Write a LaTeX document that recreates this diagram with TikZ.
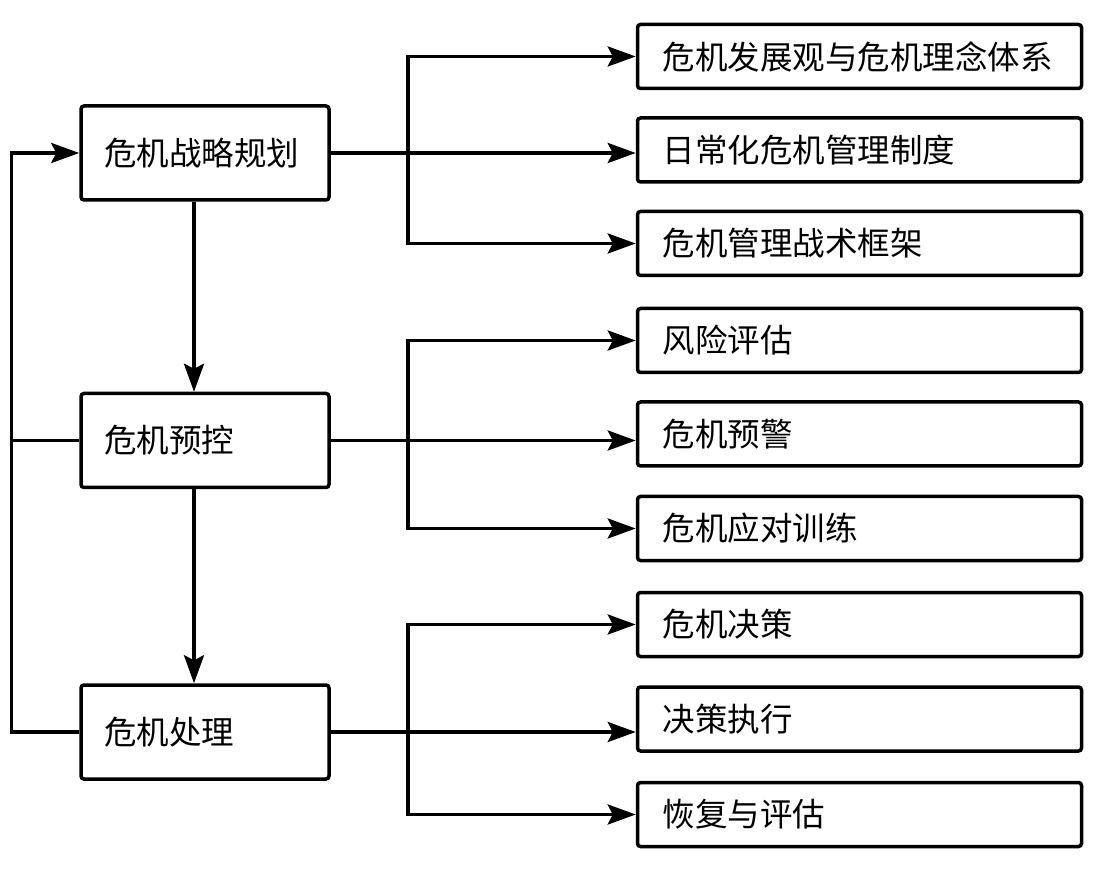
\documentclass[tikz,border=0pt]{standalone}
\usepackage{fontspec}
\newfontfamily\cjk{Noto Sans CJK SC}
\usetikzlibrary{arrows.meta,positioning,calc}

\begin{document}
\begin{tikzpicture}[
    x=1pt, y=1pt,
    >={Stealth[length=28pt, width=20pt, inset=5pt]},
    node distance=26pt,
    mainbox/.style={draw, rectangle, minimum height=94pt, minimum width=248pt, text width=202pt, inner xsep=23pt, align=left, font=\cjk\fontsize{32.5}{38}\selectfont, rounded corners=3pt, line width=3.5pt},
    subbox/.style={draw, rectangle, minimum height=64pt, minimum width=444pt, text width=394pt, inner xsep=25pt, align=left, font=\cjk\fontsize{32.5}{38}\selectfont, rounded corners=3pt, line width=3.5pt},
    link/.style={line width=3.5pt}
]
    \useasboundingbox (0,0) rectangle (1093,-874);

    % Coluna principal (esquerda)
    \node[mainbox] (plan) at (205,-153) {危机战略规划};
    \node[mainbox, below=190pt of plan] (ctrl) {危机预控};
    \node[mainbox, below=194pt of ctrl] (handle) {危机处理};

    % Primeiro grupo
    \node[subbox, right=305pt of plan, yshift=3pt] (sysb) {日常化危机管理制度};
    \node[subbox, above=of sysb] (sysa) {危机发展观与危机理念体系};
    \node[subbox, below=of sysb] (sysc) {危机管理战术框架};

    % Segundo grupo
    \node[subbox, right=305pt of ctrl, yshift=6.5pt] (warnb) {危机预警};
    \node[subbox, above=of warnb] (warna) {风险评估};
    \node[subbox, below=27pt of warnb] (warnc) {危机应对训练};

    % Terceiro grupo
    \node[subbox, right=305pt of handle, yshift=13pt] (actb) {决策执行};
    \node[subbox, above=27pt of actb] (acta) {危机决策};
    \node[subbox, below=28pt of actb] (actc) {恢复与评估};

    % Pontos de ramificacao
    \coordinate (j1) at ($(plan.east)+(77pt,0)$);
    \coordinate (j2) at ($(ctrl.east)+(77pt,0)$);
    \coordinate (j3) at ($(handle.east)+(77pt,0)$);
    \coordinate (fb) at ($(handle.west)+(-68pt,0)$);

    % Ligacoes verticais
    \draw[->, link] ([xshift=-11pt]plan.south) -- ([xshift=-11pt]ctrl.north);
    \draw[->, link] ([xshift=-11pt]ctrl.south) -- ([xshift=-11pt]handle.north);

    % Ramificacoes para a direita
    \draw[->, link] (plan.east) -- (plan.east -| sysb.west);
    \draw[->, link] (j1) |- (sysa.west);
    \draw[->, link] (j1) |- (sysc.west);

    \draw[->, link] (ctrl.east) -- (ctrl.east -| warnb.west);
    \draw[->, link] (j2) |- (warna.west);
    \draw[->, link] (j2) |- (warnc.west);

    \draw[->, link] (handle.east) -- (handle.east -| actb.west);
    \draw[->, link] (j3) |- (acta.west);
    \draw[->, link] (j3) |- (actc.west);

    % Realimentacao
    \draw[->, link] (handle.west) -- (fb) |- (plan.west);
    \draw[link] (ctrl.west) -- (ctrl.west -| fb);

\end{tikzpicture}
\end{document}
